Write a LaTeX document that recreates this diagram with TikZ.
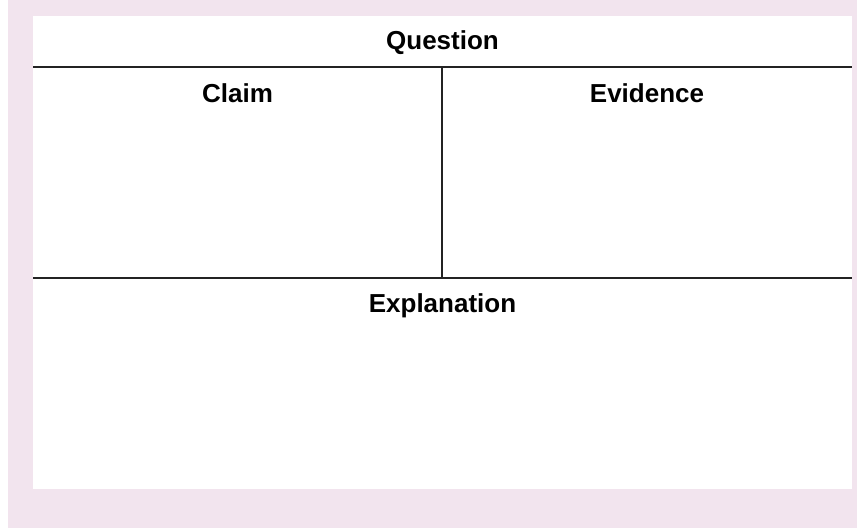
\documentclass[tikz,border=0pt]{standalone}
\usepackage{fontspec}
\setmainfont{Liberation Sans}
\definecolor{panelpink}{RGB}{242,228,238}
\definecolor{rulegray}{RGB}{35,35,35}
\tikzset{
  heading/.style={anchor=base, font=\bfseries\fontsize{26}{30}\selectfont},
  rule/.style={draw=rulegray, line width=1.9pt}
}
\begin{document}
\begin{tikzpicture}[x=1pt, y=-1pt]
            \useasboundingbox (0,0) rectangle (857,528);
            \fill[panelpink] (8,0) rectangle (857,528);
            \fill[white] (33,16) rectangle (852,489);
            \coordinate (tl) at (33,67);
            \coordinate (tr) at (852,67);
            \coordinate (bl) at (33,278);
            \coordinate (br) at (852,278);
            \coordinate (vt) at (442,67);
            \coordinate (vb) at (442,278);
            \draw[rule] (tl) -- (tr);
            \draw[rule] (bl) -- (br);
            \draw[rule] (vt) -- (vb);
            \node[heading] (question) at (442.5,49) {Question};
            \node[heading] (claim) at (237.5,102) {Claim};
            \node[heading] (evidence) at (647,102) {Evidence};
            \node[heading] (explanation) at (442.5,312) {Explanation};
        \end{tikzpicture}
\end{document}
